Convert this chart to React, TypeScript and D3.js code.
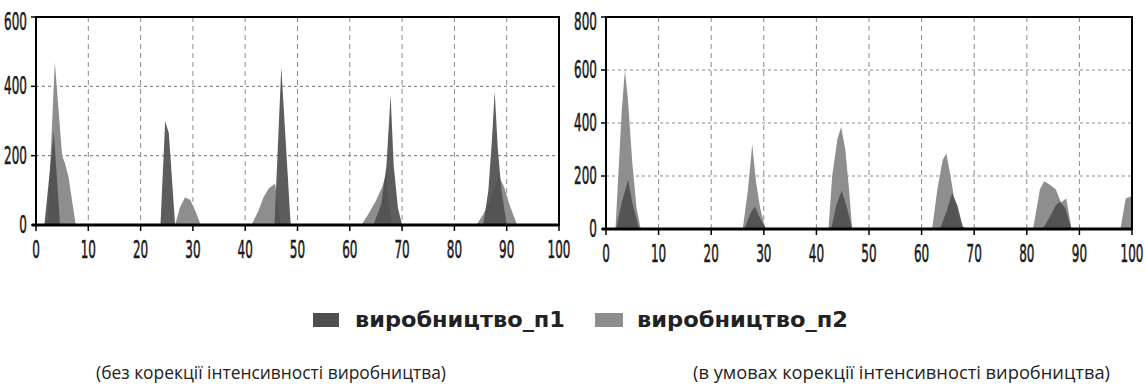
import React from 'react';
import * as d3 from 'd3';

type Pt = [number, number];

const xTicks = [0, 10, 20, 30, 40, 50, 60, 70, 80, 90, 100];
const leftYTicks = [0, 200, 400, 600];
const rightYTicks = [0, 200, 400, 600, 800];
const seriesNames = ['виробництво_п1', 'виробництво_п2'];
const captions = [
  '(без корекції інтенсивності виробництва)',
  '(в умовах корекції інтенсивності виробництва)',
];

// left panel: без корекції
const leftP1: Pt[] = [
  [0, 0], [1.6, 0], [3.4, 270], [4.6, 0],
  [23.8, 0], [24.7, 300], [25.4, 265], [26.6, 0],
  [45.6, 0], [46.9, 455], [48.7, 0],
  [64.5, 0], [66, 60], [67, 170], [67.8, 375], [68.4, 170], [69.2, 50], [70, 0],
  [85.5, 0], [86.5, 100], [87.2, 250], [87.7, 385], [88.3, 220], [89, 100], [90, 0],
  [100, 0],
];
const leftP2: Pt[] = [
  [0, 0], [2.2, 0], [3.6, 470], [5, 200], [5.5, 180], [6.2, 140], [7.6, 0],
  [26.6, 0], [27.5, 50], [28.5, 80], [29.5, 72], [30.5, 40], [31.5, 0],
  [41.2, 0], [42.5, 40], [43.5, 80], [44.5, 105], [45.7, 120], [46.3, 60], [46.8, 0],
  [62.2, 0], [63.5, 30], [65, 70], [66.2, 110], [67, 150], [67.5, 60], [68, 0],
  [84.2, 0], [85.5, 30], [86.5, 60], [88.5, 140], [89.5, 110], [90.5, 60], [92, 0],
  [100, 0],
];

// right panel: в умовах корекції
const rightP1: Pt[] = [
  [0, 0], [1.9, 0], [3, 100], [4.2, 185], [5, 100], [6.3, 0],
  [26.3, 0], [27.5, 60], [28.3, 85], [29.3, 40], [30.5, 0],
  [42.8, 0], [43.8, 90], [44.8, 145], [45.8, 80], [46.8, 0],
  [63.5, 0], [64.8, 70], [65.8, 135], [66.8, 90], [67.8, 10], [68.5, 0],
  [83, 0], [84.5, 50], [85.5, 90], [86.3, 103], [87.3, 80], [88.5, 0],
  [100, 0],
];
const rightP2: Pt[] = [
  [0, 0], [1.8, 0], [3, 450], [3.6, 600], [4.2, 480], [5, 250], [5.8, 80], [6.6, 0],
  [26, 0], [27, 150], [27.8, 320], [28.5, 180], [29.3, 80], [30.3, 0],
  [42.3, 0], [43, 200], [44, 340], [44.7, 385], [45.5, 300], [46.2, 150], [46.8, 0],
  [62, 0], [63, 150], [64, 260], [64.7, 285], [65.5, 200], [66.3, 100], [67.3, 30], [68, 0],
  [81.2, 0], [82.5, 150], [83.3, 180], [84.5, 165], [85.5, 150], [86.5, 100], [87.5, 115], [88.5, 0],
  [97.8, 0], [98.8, 115], [100, 125],
];

const DARK = '#4f4f4f';
const LIGHT = '#8e8e8e';

interface PanelProps {
  left: number;
  right: number;
  top: number;
  bottom: number;
  yMax: number;
  yTicks: number[];
  p1: Pt[];
  p2: Pt[];
}

const Panel = ({ left, right, top, bottom, yMax, yTicks, p1, p2 }: PanelProps) => {
  const x = d3.scaleLinear().domain([0, 100]).range([left, right]);
  const y = d3.scaleLinear().domain([0, yMax]).range([bottom, top]);
  const area = d3
    .area<Pt>()
    .x((d) => x(d[0]))
    .y0(y(0))
    .y1((d) => y(d[1]));

  return (
    <g>
      {/* grid */}
      {xTicks.slice(1, -1).map((t) => (
        <line key={'gx' + t} x1={x(t)} x2={x(t)} y1={top} y2={bottom}
          stroke="#8a8a8a" strokeWidth={1} strokeDasharray="5,4" />
      ))}
      {yTicks.slice(1, -1).map((t) => (
        <line key={'gy' + t} x1={left} x2={right} y1={y(t)} y2={y(t)}
          stroke="#8a8a8a" strokeWidth={1.2} strokeDasharray="3,3" />
      ))}
      <path d={area(p2) ?? ''} fill={LIGHT} />
      <path d={area(p1) ?? ''} fill={DARK} fillOpacity={0.92} />
      {/* frame */}
      <rect x={left} y={top} width={right - left} height={bottom - top}
        fill="none" stroke="#000" strokeWidth={2} />
      <line x1={left - 4} x2={right} y1={bottom} y2={bottom} stroke="#000" strokeWidth={3} />
      {/* x ticks */}
      {xTicks.map((t) => (
        <g key={'tx' + t}>
          <line x1={x(t)} x2={x(t)} y1={bottom} y2={bottom + 6} stroke="#000" strokeWidth={1.5} />
          <text transform={`translate(${x(t)},${bottom + 33}) scale(0.5,1)`}
            textAnchor="middle" fontFamily="'DejaVu Sans', sans-serif" fontSize={24}
            fill="#1a1a1a" stroke="#1a1a1a" strokeWidth={0.6}>
            {t}
          </text>
        </g>
      ))}
      {/* y ticks */}
      {yTicks.map((t) => (
        <g key={'ty' + t}>
          <line x1={left - 5} x2={left} y1={y(t)} y2={y(t)} stroke="#000" strokeWidth={1.5} />
          <text transform={`translate(${left - 9},${Math.max(y(t), top + 5) + 8}) scale(0.5,1)`}
            textAnchor="end" fontFamily="'DejaVu Sans', sans-serif" fontSize={24}
            fill="#1a1a1a" stroke="#1a1a1a" strokeWidth={0.6}>
            {t}
          </text>
        </g>
      ))}
    </g>
  );
};

export default function App() {
  return (
    <svg width={1146} height={390} style={{ position: 'absolute', left: 0, top: 0, background: '#fff' }}>
      <rect width={1146} height={390} fill="#fff" />
      <Panel left={36} right={559} top={17} bottom={225} yMax={600} yTicks={leftYTicks} p1={leftP1} p2={leftP2} />
      <Panel left={606} right={1132} top={17} bottom={229} yMax={800} yTicks={rightYTicks} p1={rightP1} p2={rightP2} />

      {/* legend */}
      <rect x={313} y={313} width={26} height={14} fill={DARK} />
      <text x={355} y={327} fontFamily="'DejaVu Sans', sans-serif" fontWeight="bold" fontSize={21} fill="#222"
        textLength={210} lengthAdjust="spacingAndGlyphs">
        {seriesNames[0]}
      </text>
      <rect x={595} y={313} width={28} height={14} fill={LIGHT} />
      <text x={637} y={327} fontFamily="'DejaVu Sans', sans-serif" fontWeight="bold" fontSize={21} fill="#222"
        textLength={211} lengthAdjust="spacingAndGlyphs">
        {seriesNames[1]}
      </text>

      {/* captions */}
      <text x={96} y={379} fontFamily="'Open Sans', sans-serif" fontSize={19} fill="#222"
        textLength={350} lengthAdjust="spacingAndGlyphs">
        {captions[0]}
      </text>
      <text x={693} y={379} fontFamily="'Open Sans', sans-serif" fontSize={19} fill="#222"
        textLength={417} lengthAdjust="spacingAndGlyphs">
        {captions[1]}
      </text>
    </svg>
  );
}
